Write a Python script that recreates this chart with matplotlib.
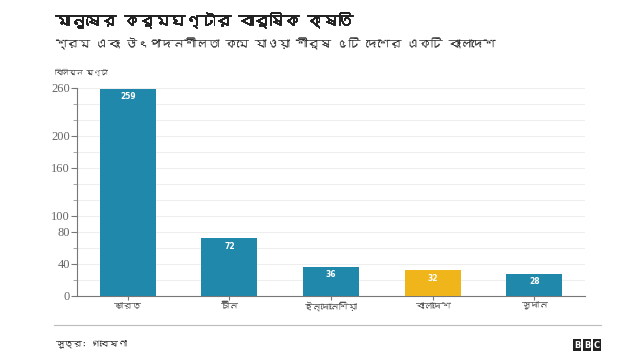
import matplotlib
matplotlib.use("Agg")
import matplotlib.pyplot as plt
import matplotlib.patheffects as pe
from matplotlib import font_manager
from matplotlib.ticker import FixedLocator, MultipleLocator
from fontTools.ttLib import TTFont

countries = ["ভারত", "চীন", "ইন্দোনেশিয়া", "বাংলাদেশ", "সুদান"]
hours = [259, 72, 36, 32, 28]
highlight = "বাংলাদেশ"
y_ticks = [0, 40, 80, 100, 160, 200, 260]

title = "মানুষের কর্মঘণ্টার বার্ষিক ক্ষতি"
subtitle = "শ্রম এবং উৎপাদনশীলতা কমে যাওয়া শীর্ষ ৫টি দেশের একটি বাংলাদেশ"
unit = "বিলিয়ন ঘণ্টা"
source = "সূত্র: গবেষণা"

BLUE = "#1f88ab"
YELLOW = "#f1b51c"


def bengali_family():
    # look for any installed font that has Bengali glyphs
    for f in font_manager.fontManager.ttflist:
        try:
            cmap = TTFont(f.fname, fontNumber=0, lazy=True).getBestCmap()
        except Exception:
            continue
        if cmap and 0x0995 in cmap:
            return f.name
    return None


bn = bengali_family()
fams = ([bn] if bn else []) + ["DejaVu Sans"]
plt.rcParams["font.family"] = fams

fig = plt.figure(figsize=(6.4, 3.6), dpi=100)
ax = fig.add_axes([77 / 640, 1 - 296 / 360, 508 / 640, 208 / 360])

colors = [YELLOW if c == highlight else BLUE for c in countries]
x = range(len(countries))
bars = ax.bar(x, hours, width=0.55, color=colors, zorder=3)
for b, v in zip(bars, hours):
    ax.text(b.get_x() + b.get_width() / 2, v - 4, str(v), ha="center", va="top",
            color="white", fontsize=5.5, fontweight="bold", zorder=4,
            family="DejaVu Sans")

ax.set_xlim(-0.5, len(countries) - 0.5)
ax.set_ylim(0, 260)
ax.yaxis.set_major_locator(FixedLocator(y_ticks))
ax.yaxis.set_minor_locator(MultipleLocator(20))
ax.grid(axis="y", which="both", color="#eeeeee", linewidth=0.8, zorder=0)
ax.set_xticks(list(x))
ax.set_xticklabels(countries, fontsize=6.5, color="#555555")
for lab in ax.get_yticklabels():
    lab.set_family(["Liberation Serif", "DejaVu Serif"])
ax.tick_params(axis="y", which="major", labelsize=9, labelcolor="#666666",
               color="#777777", length=4, pad=1)
ax.tick_params(axis="y", which="minor", color="#999999", length=3)
ax.tick_params(axis="x", length=3, color="#777777", pad=1)
for s in ["top", "right"]:
    ax.spines[s].set_visible(False)
ax.spines["left"].set_color("#777777")
ax.spines["bottom"].set_color("#777777")

# the Bengali font has no bold face, so thicken the title with a stroke
fig.text(55 / 640, 1 - 20 / 360, title, fontsize=11, fontweight="bold",
         color="#222222", va="center",
         path_effects=[pe.withStroke(linewidth=0.7, foreground="#222222")])
fig.text(55 / 640, 1 - 44 / 360, subtitle, fontsize=8.5, color="#333333", va="center")
fig.text(55 / 640, 1 - 72 / 360, unit, fontsize=5, color="#444444", va="center")

fig.add_artist(plt.Line2D([54 / 640, 601 / 640], [1 - 325 / 360] * 2,
                          color="#bbbbbb", linewidth=0.8))
fig.text(55 / 640, 1 - 345 / 360, source, fontsize=6.5, color="#333333", va="center")

# BBC blocks
for i, ch in enumerate("BBC"):
    x0 = 573 / 640 + i * 10 / 640
    fig.text(x0 + 4 / 640, 1 - 345 / 360, ch, fontsize=6, fontweight="bold",
             color="white", ha="center", va="center", family="DejaVu Sans",
             bbox=dict(boxstyle="square,pad=0.15", fc="#222222", ec="none"))

fig.savefig("out.png", dpi=100)
